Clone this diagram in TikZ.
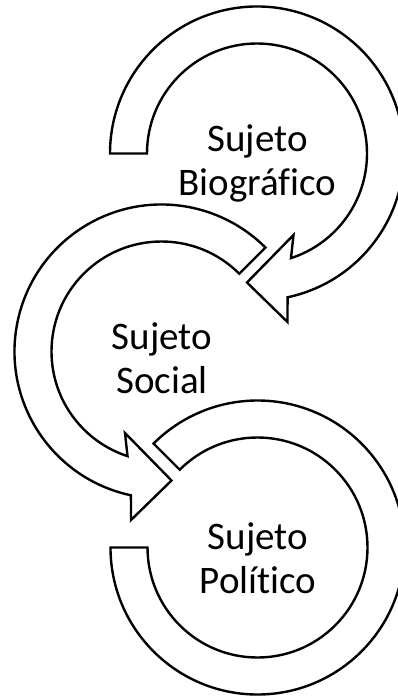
\documentclass[tikz,border=0pt]{standalone}
\usepackage{fontspec}
\setmainfont{Carlito}[Ligatures=CommonOff]
\tikzset{
  band/.style={draw=black, fill=white, line width=2.4pt, line join=miter},
  tag/.style={font=\fontsize{39}{44}\selectfont, align=center, anchor=base}
}
\begin{document}
\begin{tikzpicture}[x=1pt,y=1pt]
\useasboundingbox (0,0) rectangle (398,-698);

%CENTRES
\coordinate (c1) at (257,-153.5);
\coordinate (c2) at (161.5,-351.5);
\coordinate (c3) at (257.5,-547.5);

%ARROWS
%Arrow 1 (clockwise, head at the bottom)
\draw [band, shift={(c1)}] (180:147) -- (180:110)
  arc [start angle=180, end angle=-72, radius=110]
  -- (36.5,-81.5) -- (-10,-129) -- (30.5,-168.5) -- (-78:147)
  arc [start angle=-78, end angle=180, radius=147] -- cycle;

%Arrow 2 (counter clockwise, head at the bottom)
\draw [band, shift={(c2)}] (45:147) -- (45:110)
  arc [start angle=45, end angle=252, radius=110]
  -- (-36.5,-81.5) -- (10,-129) -- (-30.5,-168.5) -- (258:147)
  arc [start angle=258, end angle=45, radius=147] -- cycle;

%Arrow 3 (clockwise, no head)
\draw [band, shift={(c3)}] (135:147) -- (135:110)
  arc [start angle=135, end angle=-180, radius=110]
  -- (-180:147)
  arc [start angle=-180, end angle=135, radius=147] -- cycle;

%Labels (base = last line)
\node [tag] (bio) at (257.5,-195) {Sujeto\\Biográfico};
\node [tag] (soc) at (162,-393) {Sujeto\\Social};
\node [tag] (pol) at (258,-593) {Sujeto\\Político};

\end{tikzpicture}
\end{document}
